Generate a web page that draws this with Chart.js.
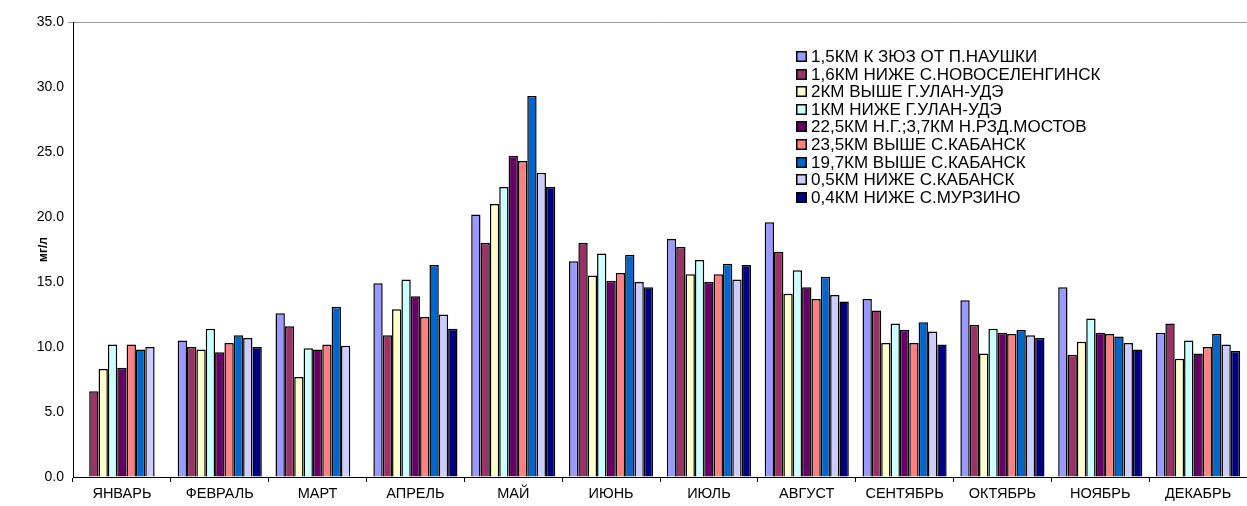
<!DOCTYPE html>
<html>
<head>
<meta charset="utf-8">
<script src="https://cdn.jsdelivr.net/npm/chart.js@4.4.1/dist/chart.umd.min.js"></script>
<style>
  body { margin: 0; background: #fff; }
  #wrap { width: 1247px; height: 506px; position: relative; }
</style>
</head>
<body>
<div id="wrap"><canvas id="chart"></canvas></div>
<script>
const months = ["ЯНВАРЬ", "ФЕВРАЛЬ", "МАРТ", "АПРЕЛЬ", "МАЙ", "ИЮНЬ", "ИЮЛЬ", "АВГУСТ", "СЕНТЯБРЬ", "ОКТЯБРЬ", "НОЯБРЬ", "ДЕКАБРЬ"];

const stations = [
  "1,5КМ К ЗЮЗ ОТ П.НАУШКИ",
  "1,6КМ НИЖЕ С.НОВОСЕЛЕНГИНСК",
  "2КМ ВЫШЕ Г.УЛАН-УДЭ",
  "1КМ НИЖЕ Г.УЛАН-УДЭ",
  "22,5КМ Н.Г.;3,7КМ Н.РЗД.МОСТОВ",
  "23,5КМ ВЫШЕ С.КАБАНСК",
  "19,7КМ ВЫШЕ С.КАБАНСК",
  "0,5КМ НИЖЕ С.КАБАНСК",
  "0,4КМ НИЖЕ С.МУРЗИНО",
];

const naushki      = [null, 10.5, 12.6, 14.9, 20.2, 16.6, 18.3, 19.6, 13.7, 13.6, 14.6, 11.1];
const novoselenga  = [6.6, 10.0, 11.6, 10.9, 18.0, 18.0, 17.7, 17.3, 12.8, 11.7, 9.4, 11.8];
const aboveUlanUde = [8.3, 9.8, 7.7, 12.9, 21.0, 15.5, 15.6, 14.1, 10.3, 9.5, 10.4, 9.1];
const belowUlanUde = [10.2, 11.4, 9.9, 15.2, 22.3, 17.2, 16.7, 15.9, 11.8, 11.4, 12.2, 10.5];
const mostovoy     = [8.4, 9.6, 9.8, 13.9, 24.7, 15.1, 15.0, 14.6, 11.3, 11.1, 11.1, 9.5];
const kabansk235   = [10.2, 10.3, 10.2, 12.3, 24.3, 15.7, 15.6, 13.7, 10.3, 11.0, 11.0, 10.0];
const kabansk197   = [9.8, 10.9, 13.1, 16.3, 29.3, 17.1, 16.4, 15.4, 11.9, 11.3, 10.8, 11.0];
const kabanskBelow = [10.0, 10.7, 10.1, 12.5, 23.4, 15.0, 15.2, 14.0, 11.2, 10.9, 10.3, 10.2];
const murzino      = [null, 10.0, null, 11.4, 22.3, 14.6, 16.3, 13.5, 10.2, 10.7, 9.8, 9.7];

const yTicks = [0, 5, 10, 15, 20, 25, 30, 35];

const seriesValues = [naushki, novoselenga, aboveUlanUde, belowUlanUde, mostovoy, kabansk235, kabansk197, kabanskBelow, murzino];
const colors = ["#9999FF", "#993366", "#FFFFCC", "#CCFFFF", "#660066", "#FF8080", "#0066CC", "#CCCCFF", "#000080"];

const font = "'Liberation Sans', Arial, sans-serif";

// legend drawn inside the plot, top right
const insideLegend = {
  id: "insideLegend",
  afterDraw(chart) {
    const ctx = chart.ctx;
    const x = 796, y0 = 56, step = 17.6, box = 11;
    ctx.save();
    ctx.font = "17px " + font;
    ctx.textBaseline = "middle";
    chart.data.datasets.forEach((ds, i) => {
      const y = Math.round(y0 + i * step);
      ctx.fillStyle = ds.backgroundColor;
      ctx.fillRect(x, y - 5, box, box);
      ctx.strokeStyle = "#000";
      ctx.lineWidth = 1.5;
      ctx.strokeRect(x + 0.75, y - 5 + 0.75, box - 1.5, box - 1.5);
      ctx.fillStyle = "#000";
      ctx.fillText(ds.label, x + box + 4, y + 1);
    });
    ctx.restore();
  }
};

new Chart(document.getElementById("chart"), {
  type: "bar",
  data: {
    labels: months,
    datasets: stations.map((name, i) => ({
      label: name,
      data: seriesValues[i],
      backgroundColor: colors[i],
      borderColor: "#000",
      borderWidth: 1.5,
      borderSkipped: "bottom",
      categoryPercentage: 0.86,
      barPercentage: 1.0,
    }))
  },
  options: {
    responsive: true,
    maintainAspectRatio: false,
    animation: false,
    layout: { padding: { top: 22, right: 0, left: 0, bottom: 0 } },
    plugins: {
      legend: { display: false },
      tooltip: { enabled: false }
    },
    scales: {
      x: {
        grid: { display: true, drawOnChartArea: false, drawTicks: true, tickLength: 5, color: "#000", offset: true },
        border: { color: "#000" },
        ticks: { color: "#000", font: { family: font, size: 14.5 }, maxRotation: 0, padding: 3 },
        afterFit: s => { s.height = 29; }
      },
      y: {
        min: 0,
        max: 35,
        afterBuildTicks: s => { s.ticks = yTicks.map(v => ({ value: v })); },
        grid: {
          drawTicks: true,
          tickLength: 5,
          color: c => c.tick && c.tick.value === 35 ? "#999" : "rgba(0,0,0,0)",
        },
        border: { color: "#000" },
        ticks: { color: "#000", font: { family: font, size: 14 }, padding: 4, callback: v => Number(v).toFixed(1) },
        title: { display: true, text: "мг/л", color: "#000", font: { family: font, size: 12, weight: "bold" }, padding: { top: 36, bottom: 0 } },
        afterFit: s => { s.width = 73; }
      }
    }
  },
  plugins: [insideLegend]
});
</script>
</body>
</html>
